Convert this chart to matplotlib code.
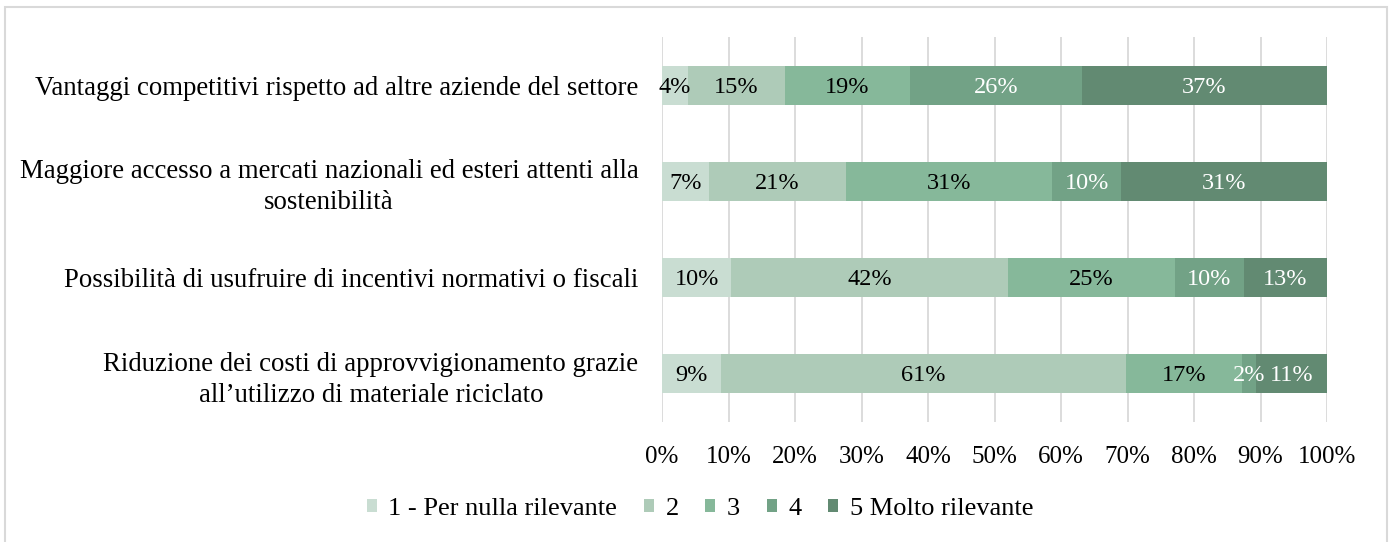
import matplotlib
matplotlib.use("Agg")
import matplotlib.pyplot as plt
from matplotlib.patches import Rectangle
import numpy as np

categories = [
    "Vantaggi competitivi rispetto ad altre aziende del settore",
    "Maggiore accesso a mercati nazionali ed esteri attenti alla\nsostenibilità",
    "Possibilità di usufruire di incentivi normativi o fiscali",
    "Riduzione dei costi di approvvigionamento grazie\nall’utilizzo di materiale riciclato",
]
series_names = ["1 - Per nulla rilevante", "2", "3", "4", "5 Molto rilevante"]
# fractions (%) per category, per series
s1 = [3.9, 7.0, 10.4, 8.9]
s2 = [14.6, 20.7, 41.7, 60.9]
s3 = [18.8, 31.0, 25.0, 17.4]
s4 = [25.8, 10.3, 10.4, 2.1]
s5 = [36.9, 31.0, 12.5, 10.7]
labels = [
    ["4%", "7%", "10%", "9%"],
    ["15%", "21%", "42%", "61%"],
    ["19%", "31%", "25%", "17%"],
    ["26%", "10%", "10%", "2%"],
    ["37%", "31%", "13%", "11%"],
]
xticks = [0, 10, 20, 30, 40, 50, 60, 70, 80, 90, 100]

colors = ["#C9DDD2", "#AECBB8", "#86B89A", "#72A286", "#628A72"]
text_colors = ["black", "black", "black", "white", "white"]

plt.rcParams['font.family'] = ['Liberation Serif', 'DejaVu Serif']

W, H = 1391, 542
fig = plt.figure(figsize=(W / 100, H / 100), dpi=100)
ax = fig.add_axes([662 / W, 1 - 422 / H, (1327 - 662) / W, (422 - 37) / H])

data = [s1, s2, s3, s4, s5]
y = np.arange(len(categories))
left = np.zeros(len(categories))
for i, vals in enumerate(data):
    vals = np.array(vals)
    bars = ax.barh(y, vals, left=left, height=0.405, color=colors[i],
                   label=series_names[i], zorder=3)
    for j, b in enumerate(bars):
        ax.text(left[j] + vals[j] / 2, y[j] + 0.02, labels[i][j], ha="center",
                va="center", fontsize=17.5, color=text_colors[i], zorder=4)
    left += vals

ax.set_xlim(0, 100)
ax.set_ylim(len(categories) - 0.5, -0.5)
ax.set_yticks(y)
ax.set_yticklabels(categories, fontsize=19.3, color="#000000",
                   multialignment="center", linespacing=1.3)
ax.set_xticks(xticks)
ax.set_xticklabels([f"{t}%" for t in xticks], fontsize=18, color="#000000")
ax.tick_params(axis="both", length=0)
ax.tick_params(axis="x", pad=17)
ax.tick_params(axis="y", pad=17)
ax.grid(axis="x", color="#D9D9D9", linewidth=1.3, zorder=0)
for sp in ax.spines.values():
    sp.set_visible(False)

handles, lbls = ax.get_legend_handles_labels()
fig.legend(handles, lbls, loc="center", bbox_to_anchor=(700 / W, 1 - 509 / H),
           ncol=5, frameon=False, fontsize=19, handlelength=0.38,
           handleheight=0.38, handletextpad=0.45, columnspacing=1.0)

fig.patches.append(Rectangle((5 / W, -0.1), (1387 - 5) / W, 1.1 - 7 / H,
                             transform=fig.transFigure, fill=False,
                             edgecolor="#D9D9D9", linewidth=1.5))

fig.savefig("out.png", dpi=100, facecolor="white")
